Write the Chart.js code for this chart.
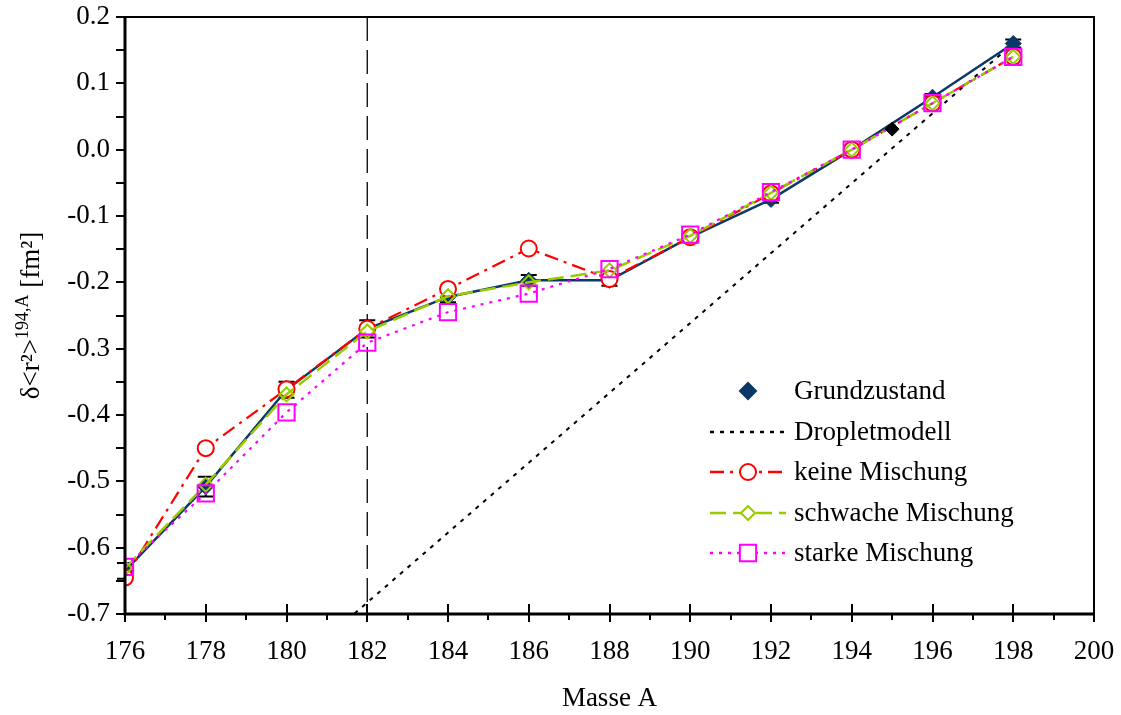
<!DOCTYPE html>
<html>
<head>
<meta charset="utf-8">
<script src="https://cdn.jsdelivr.net/npm/chart.js@4.4.1/dist/chart.umd.min.js"></script>
<style>
  html, body { margin: 0; padding: 0; background: #fff; }
  #wrap { width: 1121px; height: 715px; position: relative; }
</style>
</head>
<body>
<div id="wrap"><canvas id="isoChart"></canvas></div>
<script>
// mass numbers of the measured isotopes
const massA = [176, 178, 180, 182, 184, 186, 188, 190, 192, 194, 196, 198];
// delta <r^2> relative to A = 194, in fm^2
const grundzustand = [-0.635, -0.508, -0.362, -0.270, -0.222, -0.197, -0.197, -0.132, -0.075, 0.000, 0.079, 0.160];
const grundFehler = [0.012, 0.015, 0.012, 0.013, 0.008, 0.008, 0.008, 0.005, 0.005, 0.000, 0.005, 0.006];
const keineMischung = [-0.645, -0.450, -0.361, -0.270, -0.210, -0.149, -0.195, -0.132, -0.066, 0.000, 0.070, 0.140];
const schwacheMischung = [-0.631, -0.505, -0.369, -0.274, -0.221, -0.200, -0.182, -0.130, -0.065, 0.000, 0.070, 0.140];
const starkeMischung = [-0.629, -0.518, -0.396, -0.291, -0.245, -0.217, -0.180, -0.128, -0.064, 0.000, 0.070, 0.140];
// droplet model straight line
const dropletA = [181.5, 198];
const dropletR = [-0.709, 0.160];
// single extra point at A = 195
const extraA = [195];
const extraR = [0.031];
// dashed reference line
const markA = 182;
// tick labels
const xTicks = [176, 178, 180, 182, 184, 186, 188, 190, 192, 194, 196, 198, 200];
const yTicks = [0.2, 0.1, 0.0, -0.1, -0.2, -0.3, -0.4, -0.5, -0.6, -0.7];

const serif = '"Liberation Serif", "Times New Roman", serif';
const fontSize = 27;
const navy = '#0b3866';
const red = '#ff0000';
const green = '#99cc00';
const magenta = '#ff00ff';

const pts = (xs, ys) => xs.map((x, i) => ({ x: x, y: ys[i] }));

// fixed scale boxes, no extra padding for overhanging labels
function fixBox(size) {
    return s => {
        if (s.isHorizontal()) s.height = size; else s.width = size;
        s.paddingTop = 0; s.paddingBottom = 0; s.paddingLeft = 0; s.paddingRight = 0;
    };
}

function marker(ctx, style, x, y, r, fill, stroke, lw) {
    ctx.beginPath();
    if (style === 'circle') {
        ctx.arc(x, y, r, 0, Math.PI * 2);
    } else if (style === 'rectRot') {
        ctx.moveTo(x - r, y); ctx.lineTo(x, y - r); ctx.lineTo(x + r, y); ctx.lineTo(x, y + r);
        ctx.closePath();
    } else {
        const s = Math.SQRT1_2 * r;
        ctx.rect(x - s, y - s, 2 * s, 2 * s);
    }
    if (fill) { ctx.fillStyle = fill; ctx.fill(); }
    if (stroke) { ctx.strokeStyle = stroke; ctx.lineWidth = lw; ctx.stroke(); }
}

const legendRows = [
    { text: 'Grundzustand', y: 391, dash: null, color: navy, style: 'rectRot', r: 8, fill: navy, stroke: navy },
    { text: 'Dropletmodell', y: 432, dash: [4, 6], color: '#000' },
    { text: 'keine Mischung', y: 472, dash: [14, 6, 3, 6], color: red, style: 'circle', r: 8, fill: '#fff', stroke: red },
    { text: 'schwache Mischung', y: 513, dash: [16, 7], color: green, style: 'rectRot', r: 7, fill: '#fff', stroke: green },
    { text: 'starke Mischung', y: 553, dash: [3, 6], color: magenta, style: 'rect', r: 11.5, fill: '#fff', stroke: magenta }
];

const framePlugin = {
    id: 'frame',
    beforeDatasetsDraw(chart) {
        const { ctx, chartArea: a, scales: { x, y } } = chart;
        ctx.save();
        // vertical dashed line
        const px = x.getPixelForValue(markA);
        ctx.strokeStyle = '#000';
        ctx.lineWidth = 1.3;
        ctx.setLineDash([24, 9]);
        ctx.beginPath(); ctx.moveTo(px, a.top); ctx.lineTo(px, a.bottom); ctx.stroke();
        ctx.setLineDash([]);
        // error bars of the ground state
        ctx.lineWidth = 2;
        massA.forEach((m, i) => {
            const e = grundFehler[i];
            if (!e) return;
            const cx = x.getPixelForValue(m);
            const y1 = y.getPixelForValue(grundzustand[i] + e);
            const y2 = y.getPixelForValue(grundzustand[i] - e);
            ctx.beginPath();
            ctx.moveTo(cx, y1); ctx.lineTo(cx, y2);
            ctx.moveTo(cx - 8, y1); ctx.lineTo(cx + 8, y1);
            ctx.moveTo(cx - 8, y2); ctx.lineTo(cx + 8, y2);
            ctx.stroke();
        });
        ctx.restore();
    },
    afterDraw(chart) {
        const { ctx, chartArea: a, scales: { x, y } } = chart;
        ctx.save();
        ctx.strokeStyle = '#000';
        // box
        ctx.lineWidth = 2;
        ctx.beginPath();
        ctx.moveTo(a.left, a.top); ctx.lineTo(a.right, a.top); ctx.lineTo(a.right, a.bottom);
        ctx.stroke();
        ctx.lineWidth = 3;
        ctx.beginPath();
        ctx.moveTo(a.left, a.top - 1); ctx.lineTo(a.left, a.bottom); ctx.lineTo(a.right + 1, a.bottom);
        ctx.stroke();
        // tick marks
        ctx.lineWidth = 2;
        ctx.beginPath();
        y.ticks.forEach(t => {
            const py = Math.round(y.getPixelForValue(t.value));
            ctx.moveTo(a.left - 9, py); ctx.lineTo(a.left, py);
        });
        x.ticks.forEach(t => {
            const px = Math.round(x.getPixelForValue(t.value));
            if (xTicks.includes(t.value)) {
                ctx.moveTo(px, a.bottom - 10); ctx.lineTo(px, a.bottom + 8);
            } else {
                ctx.moveTo(px, a.bottom); ctx.lineTo(px, a.bottom + 6);
            }
        });
        ctx.stroke();

        // axis titles
        ctx.fillStyle = '#000';
        ctx.textAlign = 'center';
        ctx.textBaseline = 'middle';
        ctx.font = fontSize + 'px ' + serif;
        ctx.fillText('Masse A', (a.left + a.right) / 2, 699);

        ctx.save();
        ctx.translate(39, (a.top + a.bottom) / 2);
        ctx.rotate(-Math.PI / 2);
        ctx.textAlign = 'left';
        ctx.textBaseline = 'alphabetic';
        const mainFont = fontSize + 'px ' + serif, supFont = '18px ' + serif;
        const p1 = 'δ<r²>', sup = '194,A', p2 = ' [fm²]';
        ctx.font = mainFont; const w1 = ctx.measureText(p1).width, w3 = ctx.measureText(p2).width;
        ctx.font = supFont; const w2 = ctx.measureText(sup).width;
        let tx = -(w1 + w2 + w3) / 2;
        ctx.font = mainFont; ctx.fillText(p1, tx, 0); tx += w1;
        ctx.font = supFont; ctx.fillText(sup, tx, -11); tx += w2;
        ctx.font = mainFont; ctx.fillText(p2, tx, 0);
        ctx.restore();

        // legend
        ctx.font = fontSize + 'px ' + serif;
        ctx.textAlign = 'left';
        ctx.textBaseline = 'middle';
        legendRows.forEach(row => {
            if (row.dash) {
                ctx.strokeStyle = row.color;
                ctx.lineWidth = 2.5;
                ctx.setLineDash(row.dash);
                ctx.beginPath(); ctx.moveTo(710, row.y); ctx.lineTo(786, row.y); ctx.stroke();
                ctx.setLineDash([]);
            }
            if (row.style) marker(ctx, row.style, 748, row.y, row.r, row.fill, row.stroke, 2);
            ctx.fillStyle = '#000';
            ctx.fillText(row.text, 794, row.y + 1);
        });
        ctx.restore();
    }
};

new Chart(document.getElementById('isoChart'), {
    type: 'line',
    data: {
        datasets: [
            {
                label: 'Punkt A=195', data: pts(extraA, extraR), showLine: false,
                pointStyle: 'rectRot', pointRadius: 7, pointBackgroundColor: '#000', pointBorderColor: '#000',
                order: 0
            },
            {
                label: 'starke Mischung', data: pts(massA, starkeMischung),
                borderColor: magenta, borderWidth: 2.2, borderDash: [3, 6],
                pointStyle: 'rect', pointRadius: 11.5, pointBorderWidth: 2,
                pointBorderColor: magenta, pointBackgroundColor: 'rgba(0,0,0,0)',
                order: 1
            },
            {
                label: 'schwache Mischung', data: pts(massA, schwacheMischung),
                borderColor: green, borderWidth: 2.5, borderDash: [16, 7],
                pointStyle: 'rectRot', pointRadius: 7, pointBorderWidth: 2,
                pointBorderColor: green, pointBackgroundColor: 'rgba(0,0,0,0)',
                order: 2
            },
            {
                label: 'keine Mischung', data: pts(massA, keineMischung),
                borderColor: red, borderWidth: 2.2, borderDash: [14, 6, 3, 6],
                pointStyle: 'circle', pointRadius: 8, pointBorderWidth: 2,
                pointBorderColor: red, pointBackgroundColor: '#fff',
                order: 3
            },
            {
                label: 'Grundzustand', data: pts(massA, grundzustand),
                borderColor: navy, borderWidth: 2.5,
                pointStyle: 'rectRot', pointRadius: 8, pointBorderWidth: 1,
                pointBorderColor: navy, pointBackgroundColor: navy,
                order: 4
            },
            {
                label: 'Dropletmodell', data: pts(dropletA, dropletR),
                borderColor: '#000', borderWidth: 2, borderDash: [4, 6],
                pointRadius: 0, order: 5
            }
        ]
    },
    options: {
        responsive: true,
        maintainAspectRatio: false,
        animation: false,
        events: [],
        layout: { padding: { top: 17, right: 27, left: 0, bottom: 0 } },
        plugins: { legend: { display: false }, tooltip: { enabled: false } },
        scales: {
            x: {
                type: 'linear', min: 176, max: 200,
                afterFit: fixBox(101),
                grid: { display: false, drawTicks: false },
                border: { display: false },
                ticks: {
                    stepSize: 1, autoSkip: false, maxRotation: 0, padding: 22, color: '#000',
                    font: { family: serif, size: fontSize },
                    callback: v => xTicks.includes(v) ? String(v) : ''
                }
            },
            y: {
                type: 'linear', min: -0.7, max: 0.2,
                afterFit: fixBox(125),
                grid: { display: false, drawTicks: false },
                border: { display: false },
                ticks: {
                    stepSize: 0.05, autoSkip: false, padding: 15, color: '#000',
                    font: { family: serif, size: fontSize },
                    callback: v => {
                        const t = yTicks.find(t => Math.abs(t - v) < 1e-6);
                        return t === undefined ? '' : t.toFixed(1);
                    }
                }
            }
        }
    },
    plugins: [framePlugin]
});
</script>
</body>
</html>
